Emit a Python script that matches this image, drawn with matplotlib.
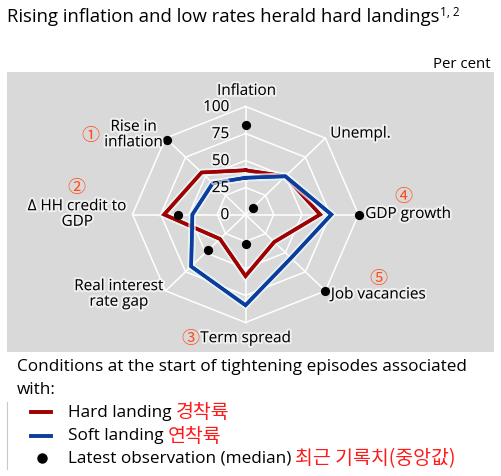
import numpy as np
import matplotlib
matplotlib.use('Agg')
import matplotlib.pyplot as plt
import matplotlib.patheffects as pe

plt.rcParams['font.family'] = ['Open Sans', 'Noto Sans CJK KR', 'DejaVu Sans']

# ── data ────────────────────────────────────────────────────────────────────
axes_names = ['Inflation', 'Unempl.', 'GDP growth', 'Job vacancies', 'Term spread',
              'Real interest\nrate gap', 'Δ HH credit to\nGDP', 'Rise in\ninflation']
hard = [41, 50, 66, 36, 57, 32, 72, 55]
soft = [34, 50, 76, 57, 84, 68, 47, 41]
latest = [83, 9, 100, 100, 27, 47, 60, 98]
rings = [25, 50, 75, 100]
ring_labels = ['25', '50', '75', '100']

RED = '#a00000'
BLUE = '#0b3d9c'
PANEL = '#d9d9d9'
KR_RED = '#ff1a1a'
NUM_RED = '#ff4d1a'

W, H = 501, 477
fig = plt.figure(figsize=(W / 100, H / 100), dpi=100)
fig.patch.set_facecolor('white')

# panel in pixel terms: x 7..494, y 73..353 (from top)
px0, px1, py0, py1 = 7, 494, 73, 353
ax = fig.add_axes([px0 / W, 1 - py1 / H, (px1 - px0) / W, (py1 - py0) / H])
ax.set_facecolor(PANEL)
for s in ax.spines.values():
    s.set_visible(False)
ax.set_xticks([])
ax.set_yticks([])

# centre of radar at (245.5, 215.5) px, scale 1.13 px/unit horizontally, 1.08 vertically
cx, cy, sx, sy = 245.5, 215.5, 1.13, 1.08
ax.set_xlim((px0 - cx) / sx, (px1 - cx) / sx)
ax.set_ylim((cy - py1) / sy, (cy - py0) / sy)

n = len(axes_names)
theta = np.arange(n) * 2 * np.pi / n


def to_xy(vals):
    v = np.asarray(vals, dtype=float)
    return v * np.sin(theta), v * np.cos(theta)


glow_txt = [pe.withStroke(linewidth=3, foreground='white', alpha=0.6)]

# grid
for r in rings:
    gx, gy = to_xy([r] * n)
    ax.plot(np.append(gx, gx[0]), np.append(gy, gy[0]), color='white', lw=1.1, zorder=1)
ox, oy = to_xy([100] * n)
for i in range(n):
    ax.plot([0, ox[i]], [0, oy[i]], color='white', lw=1.1, zorder=1)

# series
for vals, col in [(hard, RED), (soft, BLUE)]:
    x, y = to_xy(vals)
    ax.plot(np.append(x, x[0]), np.append(y, y[0]), color=col, lw=2.5, zorder=3,
            solid_joinstyle='miter',
            path_effects=[pe.withStroke(linewidth=5.5, foreground='#eefcff', alpha=0.7), pe.Normal()])
lx, ly = to_xy(latest)
ax.scatter(lx, ly, s=44, color='black', zorder=4, linewidths=0)

# ring labels
LAB = 11
for r, lab in zip(rings, ring_labels):
    ax.text(-14.5, r - 1, lab, ha='right', va='center', fontsize=LAB, color='black',
            path_effects=glow_txt, zorder=5)
ax.text(-14.5, -1, '0', ha='right', va='center', fontsize=LAB, color='black',
        path_effects=glow_txt, zorder=5)

# axis labels
lab_pos = [(1, 114, 'center'), (75, 74.5, 'left'), (106, 0, 'left'), (75.5, -74.5, 'left'),
           (0, -115, 'center'), (-112, -74, 'center'), (-149, 0, 'center'), (-99, 73.6, 'center')]
for name, (tx, ty, ha) in zip(axes_names, lab_pos):
    ax.text(tx, ty, name, ha=ha, va='center', fontsize=LAB, color='black',
            linespacing=1.05, path_effects=glow_txt, zorder=5)

# circled numbers
nums = ['①', '②', '③', '④', '⑤']
num_pos = [(-137.6, 73.9), (-149.4, 25.2), (-49.1, -114.6), (139.4, 17.4), (117.5, -59)]
for t, (tx, ty) in zip(nums, num_pos):
    ax.text(tx, ty, t, ha='center', va='center', fontsize=13, color=NUM_RED,
            family=['Noto Sans CJK KR', 'DejaVu Sans'], zorder=5)

# title and unit
title = fig.text(7 / W, 1 - 17 / H, 'Rising inflation and low rates herald hard landings',
                 ha='left', va='center', fontsize=13.3)
fig.canvas.draw()
bb = title.get_window_extent()
fig.text(bb.x1 / W + 0.001, 1 - 12 / H, '1, 2', ha='left', va='center', fontsize=8.5)
fig.text(491 / W, 1 - 64 / H, 'Per cent', ha='right', va='center', fontsize=10.8)

# legend
LEG = 12.3
fig.text(17 / W, 1 - 367 / H, 'Conditions at the start of tightening episodes associated',
         ha='left', va='center', fontsize=LEG)
fig.text(17 / W, 1 - 390 / H, 'with:', ha='left', va='center', fontsize=LEG)
fig.add_artist(plt.Line2D([7 / W, 7 / W], [1 - 403 / H, 1 - 470 / H], color='#c8c8c8', lw=0.8))

leg_items = [('Hard landing', '경착륙', 'line', RED, 413),
             ('Soft landing', '연착륙', 'line', BLUE, 436.5),
             ('Latest observation (median)', '최근 기록치(중앙값)', 'dot', 'black', 459)]
for label, kr, kind, col, ypx in leg_items:
    yf = 1 - ypx / H
    if kind == 'line':
        fig.add_artist(plt.Line2D([31 / W, 51 / W], [yf, yf], color=col, lw=2.8))
    else:
        fig.add_artist(plt.Line2D([41.5 / W], [yf], marker='o', color=col, markersize=6.5,
                                  linestyle='none'))
    t = fig.text(68 / W, yf, label, ha='left', va='center', fontsize=LEG)
    fig.canvas.draw()
    tb = t.get_window_extent()
    fig.text(tb.x1 / W + 0.008, yf, kr, ha='left', va='center', fontsize=14,
             color=KR_RED, family=['Noto Sans CJK KR', 'DejaVu Sans'])

fig.savefig('out.png', dpi=100, facecolor='white')
